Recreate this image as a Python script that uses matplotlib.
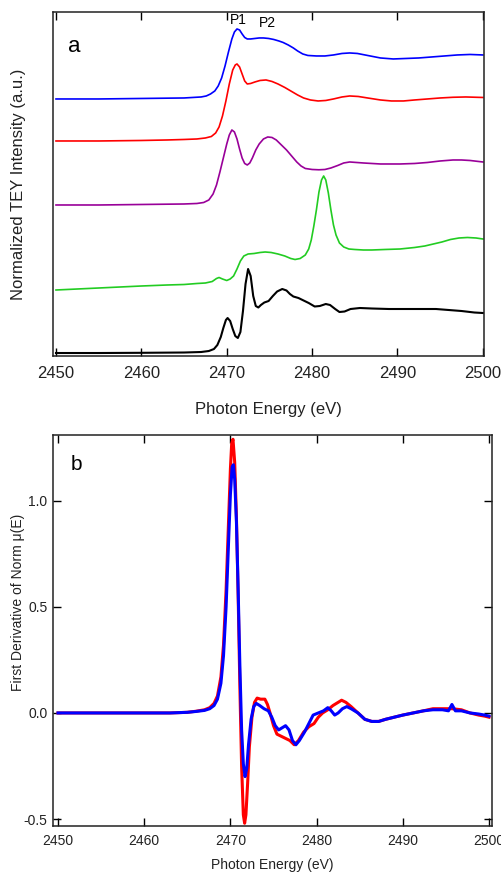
import matplotlib
matplotlib.use('Agg')
import matplotlib.pyplot as plt

plt.rcParams['font.family'] = ['Liberation Sans', 'DejaVu Sans']

# ---- panel a: normalized TEY spectra (offset, a.u.) ----
e_blue = [2450, 2455, 2460, 2463, 2465, 2466, 2467, 2467.6, 2468.1, 2468.6, 2469.0, 2469.4,
          2469.8, 2470.2, 2470.6, 2470.9, 2471.2, 2471.5, 2471.8, 2472.1, 2472.4, 2472.8,
          2473.3, 2473.8, 2474.3, 2474.9, 2475.5, 2476.1, 2476.6, 2477.2, 2477.8, 2478.3,
          2478.9, 2479.5, 2480.5, 2481.5, 2482.5, 2483.5, 2484.4, 2485.3, 2486.5, 2488,
          2489.5, 2491, 2492.5, 2494, 2495.5, 2497, 2498.5, 2500]
y_blue = [2.57, 2.57, 2.575, 2.578, 2.58, 2.585, 2.59, 2.60, 2.62, 2.65, 2.70, 2.78,
          2.90, 3.04, 3.17, 3.24, 3.27, 3.26, 3.22, 3.185, 3.17, 3.17,
          3.175, 3.18, 3.18, 3.175, 3.165, 3.15, 3.135, 3.11, 3.08, 3.05,
          3.02, 3.005, 3.00, 3.00, 3.01, 3.025, 3.03, 3.025, 3.005, 2.98,
          2.97, 2.975, 2.98, 2.99, 3.00, 3.01, 3.015, 3.01]

e_red = [2450, 2455, 2460, 2463, 2465, 2466.5, 2467.5, 2468.2, 2468.7, 2469.1, 2469.5, 2469.9,
         2470.3, 2470.7, 2471.0, 2471.2, 2471.5, 2471.8, 2472.1, 2472.4, 2472.8, 2473.3,
         2473.9, 2474.6, 2475.3, 2476, 2476.8, 2477.5, 2478.3, 2479, 2479.8, 2480.7,
         2481.6, 2482.5, 2483.5, 2484.4, 2485.4, 2486.5, 2488, 2489.3, 2490.7, 2492,
         2493.5, 2495, 2496.5, 2498, 2500]
y_red = [2.15, 2.15, 2.155, 2.16, 2.165, 2.17, 2.18, 2.195, 2.23, 2.29, 2.40, 2.55,
         2.72, 2.86, 2.91, 2.92, 2.89, 2.82, 2.75, 2.72, 2.725, 2.74,
         2.755, 2.76, 2.745, 2.72, 2.685, 2.65, 2.61, 2.58, 2.56, 2.55,
         2.555, 2.57, 2.59, 2.60, 2.595, 2.58, 2.56, 2.55, 2.55, 2.56,
         2.57, 2.58, 2.587, 2.59, 2.585]

e_purple = [2450, 2455, 2460, 2463, 2465, 2466.5, 2467.3, 2467.9, 2468.4, 2468.8, 2469.2, 2469.6,
            2470.0, 2470.3, 2470.6, 2470.9, 2471.2, 2471.5, 2471.8, 2472.1, 2472.4, 2472.7,
            2473.0, 2473.4, 2473.8, 2474.3, 2474.8, 2475.3, 2475.8, 2476.4, 2477, 2477.6,
            2478.2, 2478.7, 2479.2, 2480, 2480.8, 2481.5, 2482.2, 2483, 2483.7, 2484.4,
            2485.2, 2486, 2488, 2490.3, 2492, 2493.5, 2495, 2496.5, 2497.5, 2498.5, 2500]
y_purple = [1.51, 1.51, 1.515, 1.518, 1.52, 1.525, 1.535, 1.56, 1.62, 1.71, 1.84, 1.98,
            2.12, 2.21, 2.26, 2.24, 2.17, 2.07, 1.98, 1.925, 1.91, 1.93,
            1.98, 2.06, 2.12, 2.17, 2.19, 2.185, 2.16, 2.11, 2.06, 2.00,
            1.94, 1.90, 1.875, 1.865, 1.862, 1.865, 1.88, 1.905, 1.93, 1.94,
            1.935, 1.93, 1.92, 1.92, 1.925, 1.935, 1.95, 1.96, 1.96, 1.955, 1.94]

e_green = [2450, 2455, 2460, 2463, 2465, 2466.5, 2467.5, 2468.3, 2468.8, 2469.1, 2469.5, 2470.0,
           2470.4, 2470.8, 2471.2, 2471.6, 2472.0, 2472.5, 2473.2, 2473.9, 2474.5, 2475.2,
           2476, 2476.8, 2477.5, 2478.0, 2478.6, 2479.2, 2479.6, 2479.9, 2480.2, 2480.5,
           2480.8, 2481.1, 2481.35, 2481.6, 2481.9, 2482.2, 2482.5, 2482.8, 2483.2, 2483.7,
           2484.3, 2485, 2486, 2487, 2488.5, 2490.3, 2492, 2493.2, 2494.2, 2495.2,
           2496.2, 2497.2, 2498.2, 2499.2, 2500]
y_green = [0.66, 0.68, 0.70, 0.71, 0.715, 0.725, 0.73, 0.745, 0.775, 0.785, 0.77, 0.755,
           0.77, 0.80, 0.87, 0.95, 1.00, 1.02, 1.025, 1.035, 1.04, 1.035,
           1.02, 1.00, 0.975, 0.965, 0.975, 1.01, 1.07, 1.16, 1.30, 1.46,
           1.64, 1.76, 1.80, 1.76, 1.63, 1.46, 1.31, 1.21, 1.13, 1.09,
           1.07, 1.065, 1.06, 1.06, 1.065, 1.07, 1.085, 1.10, 1.12, 1.14,
           1.165, 1.18, 1.185, 1.18, 1.17]

e_black = [2450, 2455, 2460, 2465, 2467, 2467.9, 2468.5, 2468.9, 2469.3, 2469.6, 2469.9, 2470.1,
           2470.4, 2470.7, 2471.0, 2471.3, 2471.6, 2471.9, 2472.2, 2472.5, 2472.8, 2473.1,
           2473.4, 2473.7, 2474.0, 2474.4, 2474.9, 2475.4, 2475.9, 2476.5, 2477.0, 2477.4,
           2477.8, 2478.4, 2479.0, 2479.6, 2480.3, 2480.9, 2481.6, 2482.1, 2482.7, 2483.2,
           2483.8, 2484.5, 2485.6, 2487, 2489, 2491, 2493, 2494.5, 2496, 2497.5, 2499, 2500]
y_black = [0.03, 0.03, 0.032, 0.035, 0.04, 0.05, 0.07, 0.11, 0.19, 0.28, 0.36, 0.38,
           0.35, 0.27, 0.20, 0.18, 0.24, 0.45, 0.72, 0.87, 0.80, 0.60,
           0.50, 0.485, 0.51, 0.535, 0.55, 0.60, 0.645, 0.67, 0.655, 0.62,
           0.595, 0.58, 0.555, 0.53, 0.495, 0.50, 0.52, 0.51, 0.47, 0.44,
           0.445, 0.47, 0.48, 0.475, 0.47, 0.47, 0.47, 0.47, 0.46, 0.45, 0.435, 0.43]

# ---- panel b: first derivative of norm mu(E) ----
e_dred = [2450, 2455, 2460, 2463, 2465, 2466, 2467, 2467.6, 2468.1, 2468.5, 2468.9, 2469.2,
          2469.5, 2469.8, 2470.0, 2470.15, 2470.3, 2470.5, 2470.7, 2470.9, 2471.1, 2471.3,
          2471.5, 2471.65, 2471.8, 2472.0, 2472.2, 2472.5, 2472.8, 2473.1, 2473.5, 2474.0,
          2474.3, 2474.6, 2475.0, 2475.4, 2475.9, 2476.4, 2476.9, 2477.4, 2477.9, 2478.5,
          2479.1, 2479.7, 2480.2, 2480.7, 2481.3, 2481.9, 2482.5, 2482.9, 2483.4, 2484.0,
          2484.8, 2485.6, 2486.4, 2487.2, 2488, 2489, 2490, 2491.2, 2492.4, 2493.5,
          2494.6, 2495.7, 2496.8, 2497.8, 2498.8, 2499.5, 2500]
d_red = [0, 0, 0, 0, 0.003, 0.008, 0.015, 0.025, 0.045, 0.08, 0.17, 0.32,
         0.58, 0.92, 1.15, 1.27, 1.29, 1.18, 0.92, 0.55, 0.12, -0.25,
         -0.48, -0.52, -0.48, -0.33, -0.16, -0.02, 0.05, 0.07, 0.065, 0.065,
         0.04, 0.0, -0.06, -0.10, -0.11, -0.12, -0.13, -0.15, -0.13, -0.09,
         -0.065, -0.05, -0.02, 0.0, 0.015, 0.035, 0.05, 0.06, 0.05, 0.03,
         0.0, -0.03, -0.04, -0.04, -0.03, -0.02, -0.01, 0.0, 0.01, 0.02,
         0.02, 0.02, 0.015, 0.0, -0.01, -0.015, -0.02]

e_dblue = [2450, 2455, 2460, 2463, 2465, 2466, 2467, 2467.6, 2468.1, 2468.5, 2468.9, 2469.2,
           2469.5, 2469.8, 2470.0, 2470.2, 2470.35, 2470.5, 2470.7, 2470.9, 2471.1, 2471.3,
           2471.5, 2471.7, 2471.9, 2472.1, 2472.4, 2472.7, 2473.0, 2473.4, 2473.9, 2474.4,
           2474.8, 2475.2, 2475.6, 2476.0, 2476.4, 2476.8, 2477.2, 2477.6, 2478.0, 2478.6,
           2479.1, 2479.6, 2480.2, 2480.8, 2481.3, 2481.7, 2482.1, 2482.5, 2483.0, 2483.5,
           2484.0, 2484.8, 2485.6, 2486.4, 2487.2, 2488, 2489, 2490, 2491.2, 2492.4,
           2493.5, 2494.6, 2495.3, 2495.7, 2496.1, 2496.8, 2497.8, 2498.8, 2499.5, 2500]
d_blue = [0, 0, 0, 0, 0.003, 0.007, 0.012, 0.02, 0.035, 0.065, 0.14, 0.27,
          0.50, 0.82, 1.03, 1.16, 1.17, 1.10, 0.90, 0.58, 0.22, -0.08,
          -0.24, -0.30, -0.26, -0.15, -0.03, 0.03, 0.045, 0.035, 0.02, 0.01,
          -0.02, -0.06, -0.08, -0.07, -0.06, -0.08, -0.13, -0.15, -0.13, -0.09,
          -0.05, -0.01, 0.0, 0.01, 0.025, 0.01, -0.01, 0.0, 0.02, 0.03,
          0.02, 0.0, -0.03, -0.04, -0.04, -0.03, -0.02, -0.01, 0.0, 0.01,
          0.015, 0.015, 0.01, 0.04, 0.01, 0.01, 0.0, -0.005, -0.01, -0.015]

fig = plt.figure(figsize=(5.02, 8.73), dpi=100)
ax1 = fig.add_axes([0.1056, 0.5922, 0.858, 0.3941])
ax2 = fig.add_axes([0.1056, 0.0538, 0.8745, 0.4479])

ax1.plot(e_blue, y_blue, color='#0000ff', lw=1.2)
ax1.plot(e_red, y_red, color='#ff0000', lw=1.2)
ax1.plot(e_purple, y_purple, color='#990099', lw=1.2)
ax1.plot(e_green, y_green, color='#22cc22', lw=1.2)
ax1.plot(e_black, y_black, color='black', lw=1.5)
ax1.set_xlim(2449.65, 2500.1)
ax1.set_ylim(0, 3.44)
ax1.set_yticks([])
ax1.set_xticks([2450, 2460, 2470, 2480, 2490, 2500])
ax1.tick_params(axis='x', direction='in', top=True, length=6, width=1,
                labelsize=12, pad=7, labelcolor='#222222')
ax1.set_xlabel('Photon Energy (eV)', fontsize=12, color='#222222')
ax1.xaxis.set_label_coords(0.5, -0.135)
ax1.set_ylabel('Normalized TEY Intensity (a.u.)', fontsize=12, color='#222222')
ax1.yaxis.set_label_coords(-0.063, 0.5)
ax1.text(0.035, 0.93, 'a', transform=ax1.transAxes, fontsize=16, va='top')
ax1.text(2471.3, 3.36, 'P1', fontsize=10, ha='center', va='center')
ax1.text(2474.8, 3.325, 'P2', fontsize=10, ha='center', va='center')

ax2.plot(e_dred, d_red, color='#ff0000', lw=2.2)
ax2.plot(e_dblue, d_blue, color='#0000ff', lw=2.2)
ax2.set_xlim(2449.42, 2500.35)
ax2.set_ylim(-0.533, 1.31)
ax2.set_xticks([2450, 2460, 2470, 2480, 2490, 2500])
ax2.set_yticks([-0.5, 0.0, 0.5, 1.0])
ax2.set_yticklabels(['-0.5', '0.0', '0.5', '1.0'])
ax2.tick_params(direction='in', top=True, right=True, length=6, width=1,
                labelsize=10, labelcolor='#222222')
ax2.tick_params(axis='x', pad=6)
ax2.tick_params(axis='y', pad=4)
ax2.set_xlabel('Photon Energy (eV)', fontsize=10, color='#222222')
ax2.xaxis.set_label_coords(0.5, -0.082)
ax2.set_ylabel('First Derivative of Norm \u03bc(E)', fontsize=10, color='#222222')
ax2.yaxis.set_label_coords(-0.064, 0.573)
ax2.text(0.04, 0.95, 'b', transform=ax2.transAxes, fontsize=15, va='top')

for ax in (ax1, ax2):
    for s in ax.spines.values():
        s.set_linewidth(1.1)
        s.set_color('#222222')

fig.savefig('out.png', dpi=100)
